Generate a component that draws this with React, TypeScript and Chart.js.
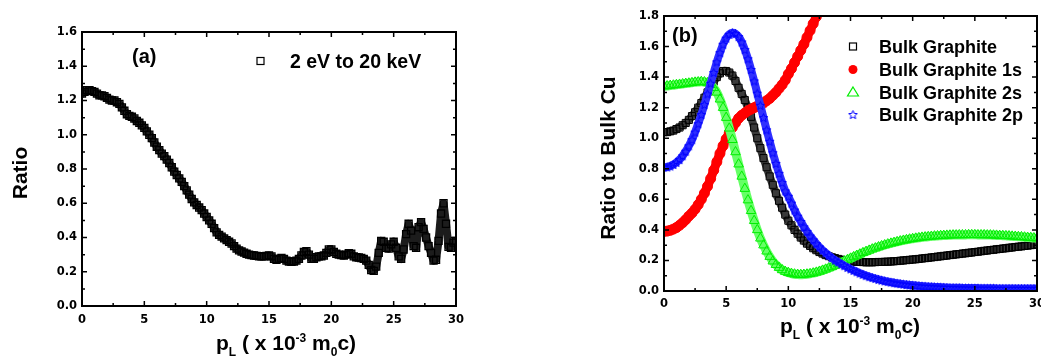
import React, { useEffect, useRef } from 'react';
import { Chart, registerables } from 'chart.js';

Chart.register(...registerables);

const SANS = '"Liberation Sans", Arial, Helvetica, sans-serif';
const TICK_FONT = '"DejaVu Sans", "Liberation Sans", sans-serif';

// ---------- Panel (a): Ratio, 2 eV to 20 keV ----------
const STEP_A = 0.2;
const ratioA = [
  1.24, 1.25, 1.26, 1.26, 1.255, 1.25, 1.24, 1.23, 1.23, 1.225,
  1.215, 1.205, 1.2, 1.2, 1.19, 1.18, 1.16, 1.14, 1.12, 1.11,
  1.105, 1.095, 1.08, 1.07, 1.055, 1.04, 1.02, 1.0, 0.98, 0.955,
  0.93, 0.91, 0.89, 0.875, 0.855, 0.835, 0.81, 0.785, 0.765, 0.745,
  0.725, 0.7, 0.675, 0.65, 0.625, 0.605, 0.59, 0.575, 0.56, 0.54,
  0.52, 0.5, 0.48, 0.455, 0.43, 0.415, 0.405, 0.395, 0.385, 0.375,
  0.365, 0.35, 0.335, 0.325, 0.318, 0.312, 0.305, 0.3, 0.297, 0.295,
  0.293, 0.29, 0.29, 0.29, 0.292, 0.295, 0.29, 0.275, 0.27, 0.275,
  0.28, 0.275, 0.265, 0.26, 0.258, 0.26, 0.265, 0.275, 0.295, 0.315,
  0.32, 0.3, 0.275, 0.275, 0.285, 0.29, 0.29, 0.295, 0.31, 0.33,
  0.33, 0.315, 0.305, 0.3, 0.298, 0.295, 0.3, 0.308, 0.305, 0.29,
  0.285, 0.283, 0.28, 0.275, 0.265, 0.24, 0.21, 0.205, 0.23, 0.31,
  0.38, 0.375, 0.34, 0.335, 0.36, 0.375, 0.34, 0.29, 0.275, 0.33,
  0.42, 0.48, 0.44, 0.35, 0.34, 0.46, 0.49, 0.45, 0.4, 0.35,
  0.31, 0.265, 0.27, 0.38, 0.54, 0.6, 0.48, 0.345, 0.34, 0.37,
  0.38,
];

// ---------- Panel (b): Ratio to Bulk Cu ----------
const STEP_B = 0.25;
const bulkGraphite = [
  1.04, 1.04, 1.045, 1.05, 1.06, 1.07, 1.085, 1.1,
  1.12, 1.145, 1.17, 1.2, 1.23, 1.265, 1.3, 1.335,
  1.37, 1.4, 1.425, 1.44, 1.44, 1.43, 1.41, 1.375,
  1.33, 1.29, 1.25, 1.2, 1.14, 1.07, 1.0, 0.935,
  0.87, 0.81, 0.75, 0.695, 0.64, 0.59, 0.545, 0.5,
  0.46, 0.43, 0.4, 0.375, 0.35, 0.33, 0.31, 0.295,
  0.28, 0.267, 0.255, 0.245, 0.235, 0.228, 0.221, 0.215,
  0.21, 0.205, 0.201, 0.198, 0.195, 0.193, 0.191, 0.19,
  0.189, 0.188, 0.188, 0.188, 0.189, 0.19, 0.19, 0.191,
  0.192, 0.193, 0.195, 0.196, 0.198, 0.2, 0.202, 0.204,
  0.206, 0.208, 0.21, 0.213, 0.215, 0.217, 0.22, 0.222,
  0.225, 0.227, 0.23, 0.232, 0.235, 0.237, 0.24, 0.242,
  0.245, 0.247, 0.25, 0.252, 0.255, 0.257, 0.26, 0.263,
  0.265, 0.268, 0.27, 0.273, 0.275, 0.278, 0.28, 0.283,
  0.285, 0.288, 0.29, 0.292, 0.295, 0.297, 0.3, 0.302,
  0.305,
];
const bulkGraphite1s = [
  0.39, 0.392, 0.397, 0.405, 0.415, 0.43, 0.447, 0.467,
  0.49, 0.51, 0.535, 0.565, 0.6, 0.64, 0.685, 0.735,
  0.79, 0.845, 0.9, 0.95, 0.995, 1.035, 1.07, 1.1,
  1.13, 1.15, 1.165, 1.18, 1.19, 1.2, 1.21, 1.22,
  1.23, 1.245, 1.26, 1.28, 1.3, 1.325, 1.35, 1.38,
  1.42, 1.455, 1.495, 1.535, 1.575, 1.615, 1.66, 1.705,
  1.75, 1.795, 1.84, 1.885,
];
const bulkGraphite2s = [
  1.34, 1.342, 1.345, 1.347, 1.35, 1.352, 1.355, 1.358,
  1.36, 1.363, 1.366, 1.368, 1.37, 1.368, 1.362, 1.35,
  1.33, 1.3, 1.255, 1.2, 1.135, 1.065, 0.99, 0.91,
  0.83, 0.75, 0.67, 0.595, 0.525, 0.46, 0.4, 0.345,
  0.3, 0.26, 0.225, 0.195, 0.172, 0.153, 0.138, 0.127,
  0.12, 0.114, 0.11, 0.108, 0.107, 0.108, 0.11, 0.113,
  0.117, 0.122, 0.128, 0.135, 0.142, 0.15, 0.158, 0.167,
  0.176, 0.185, 0.195, 0.204, 0.214, 0.223, 0.232, 0.241,
  0.25, 0.258, 0.266, 0.274, 0.281, 0.288, 0.295, 0.301,
  0.307, 0.312, 0.317, 0.322, 0.327, 0.331, 0.335, 0.339,
  0.342, 0.345, 0.348, 0.351, 0.353, 0.355, 0.357, 0.359,
  0.36, 0.362, 0.363, 0.364, 0.365, 0.366, 0.366, 0.367,
  0.367, 0.367, 0.368, 0.368, 0.368, 0.367, 0.367, 0.367,
  0.366, 0.366, 0.365, 0.364, 0.363, 0.362, 0.361, 0.36,
  0.358, 0.357, 0.355, 0.354, 0.352, 0.35, 0.349, 0.347,
  0.345,
];
const bulkGraphite2p = [
  0.81, 0.812, 0.818, 0.828, 0.842, 0.86, 0.885, 0.915,
  0.95, 0.99, 1.04, 1.095, 1.155, 1.22, 1.29, 1.36,
  1.43, 1.5, 1.56, 1.615, 1.655, 1.68, 1.69, 1.685,
  1.665, 1.63, 1.58, 1.52, 1.45, 1.375, 1.295, 1.215,
  1.135, 1.055, 0.98, 0.905, 0.835, 0.77, 0.71, 0.655,
  0.62, 0.575, 0.53, 0.49, 0.455, 0.42, 0.39, 0.36,
  0.335, 0.31, 0.288, 0.268, 0.25, 0.233, 0.217, 0.202,
  0.19, 0.178, 0.166, 0.155, 0.145, 0.135, 0.126, 0.117,
  0.109, 0.101, 0.094, 0.088, 0.082, 0.076, 0.071, 0.066,
  0.062, 0.058, 0.054, 0.051, 0.048, 0.045, 0.042, 0.04,
  0.038, 0.036, 0.034, 0.032, 0.031, 0.029, 0.028, 0.027,
  0.026, 0.025, 0.024, 0.023, 0.022, 0.022, 0.021, 0.021,
  0.02, 0.02, 0.02, 0.019, 0.019, 0.019, 0.018, 0.018,
  0.018, 0.018, 0.018, 0.017, 0.017, 0.017, 0.017, 0.017,
  0.017, 0.016, 0.016, 0.016, 0.016, 0.016, 0.016, 0.016,
  0.016,
];

const seriesNamesB = ['Bulk Graphite', 'Bulk Graphite 1s', 'Bulk Graphite 2s', 'Bulk Graphite 2p'];
const legendA = '2 eV to 20 keV';
const yTitleA = 'Ratio';
const yTitleB = 'Ratio to Bulk Cu';
type Seg = { t: string; k: 'n' | 'sub' | 'sup' };
const xTitleSegs: Seg[] = [
  { t: 'p', k: 'n' }, { t: 'L', k: 'sub' }, { t: ' ( x 10', k: 'n' }, { t: '-3', k: 'sup' },
  { t: ' m', k: 'n' }, { t: '0', k: 'sub' }, { t: 'c)', k: 'n' },
];

const toPts = (ys: number[], step: number) => ys.map((y, i) => ({ x: +(i * step).toFixed(3), y }));

// ---------- drawing helpers ----------
function makeStar(color: string, size: number, lw: number) {
  const c = document.createElement('canvas');
  c.width = size; c.height = size;
  const g = c.getContext('2d')!;
  const cx = size / 2, cy = size / 2 + 0.5, R = size / 2 - lw, r = R * 0.45;
  g.beginPath();
  for (let i = 0; i < 10; i++) {
    const ang = -Math.PI / 2 + (i * Math.PI) / 5;
    const rad = i % 2 === 0 ? R : r;
    const px = cx + rad * Math.cos(ang), py = cy + rad * Math.sin(ang);
    if (i === 0) g.moveTo(px, py); else g.lineTo(px, py);
  }
  g.closePath();
  g.strokeStyle = color; g.lineWidth = lw; g.stroke();
  return c;
}

function drawSymbol(ctx: CanvasRenderingContext2D, kind: string, x: number, y: number, color: string, star?: HTMLCanvasElement) {
  ctx.save();
  ctx.strokeStyle = color; ctx.fillStyle = color; ctx.lineWidth = 1.2;
  if (kind === 'square') {
    ctx.strokeRect(x - 3.5, y - 3.5, 7, 7);
  } else if (kind === 'circle') {
    ctx.beginPath(); ctx.arc(x, y, 4.5, 0, Math.PI * 2); ctx.fill();
  } else if (kind === 'triangle') {
    ctx.beginPath(); ctx.moveTo(x, y - 5); ctx.lineTo(x + 5.5, y + 4); ctx.lineTo(x - 5.5, y + 4); ctx.closePath(); ctx.stroke();
  } else if (kind === 'star' && star) {
    ctx.drawImage(star, x - star.width / 2, y - star.height / 2);
  }
  ctx.restore();
}

function drawXTitle(ctx: CanvasRenderingContext2D, cx: number, baseline: number) {
  const big = `bold 21px ${SANS}`, small = `bold 12px ${SANS}`;
  let w = 0;
  for (const s of xTitleSegs) { ctx.font = s.k === 'n' ? big : small; w += ctx.measureText(s.t).width; }
  let x = cx - w / 2;
  ctx.textAlign = 'left'; ctx.textBaseline = 'alphabetic'; ctx.fillStyle = '#000';
  for (const s of xTitleSegs) {
    ctx.font = s.k === 'n' ? big : small;
    const dy = s.k === 'sub' ? 6 : s.k === 'sup' ? -8 : 0;
    ctx.fillText(s.t, x, baseline + dy);
    x += ctx.measureText(s.t).width;
  }
}

function drawYTitle(ctx: CanvasRenderingContext2D, text: string, cx: number, cy: number, size: number) {
  ctx.save();
  ctx.font = `bold ${size}px ${SANS}`;
  ctx.fillStyle = '#000';
  ctx.textAlign = 'center'; ctx.textBaseline = 'alphabetic';
  ctx.translate(cx + (0.716 * size) / 2, cy);
  ctx.rotate(-Math.PI / 2);
  ctx.fillText(text, 0, 0);
  ctx.restore();
}

type LegendItem = { kind: string; color: string; label: string };
type DecoCfg = {
  id: string; yMax: number; panel: string; panelX: number; panelBase: number;
  yTitle: string; yTitleX: number; yTitleY: number;
  xTitleX: number; xTitleBase: number;
  legend: LegendItem[]; legSymX: number; legTextX: number; legBase: number[]; legFont: number;
  star?: HTMLCanvasElement;
};

function makeDeco(cfg: DecoCfg) {
  return {
    id: 'deco_' + cfg.id,
    afterDraw(chart: any) {
      const { ctx, chartArea: a, scales } = chart;
      const sx = scales.x, sy = scales.y;
      ctx.save();
      ctx.strokeStyle = '#000';
      ctx.lineWidth = 1.5;
      ctx.beginPath();
      for (let v = 0; v <= 30 + 1e-6; v += 2.5) {
        const len = Math.abs(v % 5) < 1e-6 ? 5 : 3;
        const px = sx.getPixelForValue(v);
        ctx.moveTo(px, a.bottom); ctx.lineTo(px, a.bottom - len);
        ctx.moveTo(px, a.top); ctx.lineTo(px, a.top + len);
      }
      for (let k = 0; k <= Math.round(cfg.yMax * 10); k++) {
        const v = k / 10;
        const len = k % 2 === 0 ? 5 : 3;
        const py = sy.getPixelForValue(v);
        ctx.moveTo(a.left, py); ctx.lineTo(a.left + len, py);
        ctx.moveTo(a.right, py); ctx.lineTo(a.right - len, py);
      }
      ctx.stroke();
      ctx.lineWidth = 2;
      ctx.strokeRect(a.left, a.top, a.right - a.left, a.bottom - a.top);

      ctx.fillStyle = '#000';
      ctx.font = `bold 20px ${SANS}`;
      ctx.textAlign = 'left'; ctx.textBaseline = 'alphabetic';
      ctx.fillText(cfg.panel, cfg.panelX, cfg.panelBase);

      cfg.legend.forEach((it, i) => {
        const base = cfg.legBase[i];
        drawSymbol(ctx, it.kind, cfg.legSymX, base - 6.5, it.color, cfg.star);
        ctx.fillStyle = '#000';
        ctx.font = `bold ${cfg.legFont}px ${SANS}`;
        ctx.textAlign = 'left'; ctx.textBaseline = 'alphabetic';
        ctx.fillText(it.label, cfg.legTextX, base);
      });

      drawYTitle(ctx, cfg.yTitle, cfg.yTitleX, cfg.yTitleY, 21);
      drawXTitle(ctx, cfg.xTitleX, cfg.xTitleBase);
      ctx.restore();
    },
  };
}

function axisOpts(min: number, max: number, step: number, isY: boolean, fitSize: number, pad: number) {
  return {
    type: 'linear' as const,
    min, max,
    afterFit: (s: any) => { if (isY) s.width = fitSize; else s.height = fitSize; },
    ticks: {
      stepSize: step,
      color: '#000',
      padding: pad,
      maxRotation: 0,
      autoSkip: false,
      font: { family: TICK_FONT, size: 11.5, weight: 'bold' as const },
      callback: (v: any) => (isY ? Number(v).toFixed(1) : String(Math.round(Number(v)))),
    },
    grid: { display: false, drawTicks: false },
    border: { display: false },
  };
}

export default function App() {
  const refA = useRef<HTMLCanvasElement>(null);
  const refB = useRef<HTMLCanvasElement>(null);

  useEffect(() => {
    const star = makeStar('#0000ff', 11, 1);

    const chA = new Chart(refA.current!, {
      type: 'scatter',
      data: {
        datasets: [{
          label: legendA,
          data: toPts(ratioA, STEP_A),
          pointStyle: 'rect',
          pointRadius: 5,
          pointBorderWidth: 1.3,
          pointBorderColor: '#000',
          pointBackgroundColor: 'rgba(0,0,0,0)',
          showLine: true,
          borderColor: '#1c1c1c',
          borderWidth: 8,
          borderJoinStyle: 'round',
          borderCapStyle: 'round',
          tension: 0,
          clip: 0,
        } as any],
      },
      options: {
        responsive: false,
        animation: false,
        devicePixelRatio: 1,
        events: [],
        layout: { padding: { left: 0, right: 64, top: 32, bottom: 0 } },
        plugins: { legend: { display: false }, tooltip: { enabled: false } },
        scales: {
          x: axisOpts(0, 30, 5, false, 56, 7),
          y: axisOpts(0, 1.6, 0.2, true, 82, 5),
        },
      } as any,
      plugins: [makeDeco({
        id: 'a', yMax: 1.6, panel: '(a)', panelX: 132, panelBase: 63,
        yTitle: yTitleA, yTitleX: 19, yTitleY: 173,
        xTitleX: 286, xTitleBase: 350,
        legend: [{ kind: 'square', color: '#000', label: legendA }],
        legSymX: 260.5, legTextX: 290, legBase: [67.5], legFont: 19.5,
      })],
    });

    const mk = (label: string, ys: number[], style: any, color: string, fill: string, radius: number,
      band: string, bandWidth: number, order: number) => ({
      label,
      data: toPts(ys, STEP_B),
      pointStyle: style,
      pointRadius: radius,
      pointBorderWidth: 1,
      pointBorderColor: color,
      pointBackgroundColor: fill,
      showLine: true,
      borderColor: band,
      borderWidth: bandWidth,
      borderJoinStyle: 'round',
      borderCapStyle: 'round',
      tension: 0.2,
      clip: 0,
      order,
    });

    const chB = new Chart(refB.current!, {
      type: 'scatter',
      data: {
        datasets: [
          mk(seriesNamesB[0], bulkGraphite, 'rect', '#000000', 'rgba(0,0,0,0)', 5, '#3a3a3a', 8, 3),
          mk(seriesNamesB[1], bulkGraphite1s, 'circle', '#ff0000', '#ff0000', 5, '#ff0000', 9, 2),
          mk(seriesNamesB[2], bulkGraphite2s, 'triangle', '#00ee00', 'rgba(0,0,0,0)', 5.5, '#66ff66', 9, 1),
          mk(seriesNamesB[3], bulkGraphite2p, star, '#0000ff', 'rgba(0,0,0,0)', 5, '#3030ff', 8, 0),
        ] as any,
      },
      options: {
        responsive: false,
        animation: false,
        devicePixelRatio: 1,
        events: [],
        layout: { padding: { left: 0, right: 43, top: 16, bottom: 0 } },
        plugins: { legend: { display: false }, tooltip: { enabled: false } },
        scales: {
          x: axisOpts(0, 30, 5, false, 71, 6),
          y: axisOpts(0, 1.8, 0.2, true, 144, 5),
        },
      } as any,
      plugins: [makeDeco({
        id: 'b', yMax: 1.8, panel: '(b)', panelX: 152, panelBase: 42,
        yTitle: yTitleB, yTitleX: 87, yTitleY: 158,
        xTitleX: 330, xTitleBase: 333,
        legend: [
          { kind: 'square', color: '#000', label: seriesNamesB[0] },
          { kind: 'circle', color: '#ff0000', label: seriesNamesB[1] },
          { kind: 'triangle', color: '#00ee00', label: seriesNamesB[2] },
          { kind: 'star', color: '#0000ff', label: seriesNamesB[3] },
        ],
        legSymX: 333, legTextX: 359, legBase: [53, 76, 98.5, 121], legFont: 18,
        star,
      })],
    });

    return () => { chA.destroy(); chB.destroy(); };
  }, []);

  return (
    <div style={{ position: 'fixed', left: 0, top: 0, width: 1041, height: 362, overflow: 'hidden', background: '#fff' }}>
      <canvas ref={refA} width={520} height={362} style={{ position: 'absolute', left: 0, top: 0, width: 520, height: 362 }} />
      <canvas ref={refB} width={560} height={362} style={{ position: 'absolute', left: 520, top: 0, width: 560, height: 362 }} />
    </div>
  );
}
